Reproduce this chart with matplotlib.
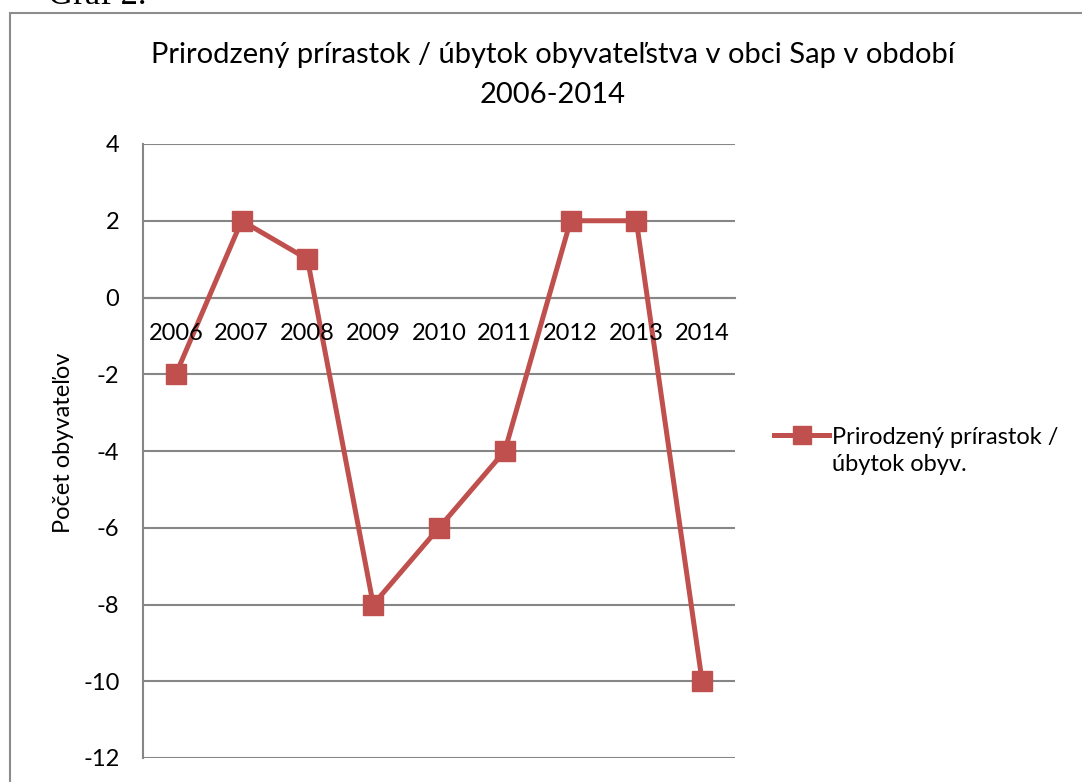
import matplotlib
matplotlib.use("Agg")
import matplotlib.pyplot as plt
from matplotlib.patches import Rectangle
from matplotlib.legend_handler import HandlerLine2D

years = ["2006", "2007", "2008", "2009", "2010", "2011", "2012", "2013", "2014"]
values = [-2, 2, 1, -8, -6, -4, 2, 2, -10]
yticks = [4, 2, 0, -2, -4, -6, -8, -10, -12]
title_lines = ["Prirodzený prírastok / úbytok obyvateľstva v obci Sap v období",
               "2006-2014"]
ylabel = "Počet obyvateľov"
series_label = "Prirodzený prírastok /\núbytok obyv."
caption = "Graf 2."

FONT = "Lato"
RED = "#C0504D"
GRAY = "#868686"
FS = 17

W, H = 1082, 782
fig = plt.figure(figsize=(W / 100, H / 100), dpi=100)
fig.patch.set_facecolor("white")

ax = fig.add_axes([143 / W, 1 - 758 / H, (735 - 143) / W, (758 - 144) / H])
x = list(range(len(years)))
ax.plot(x, values, color=RED, lw=3.6, marker="s", ms=14, mec=RED, mfc=RED,
        label=series_label, zorder=3)

for s in ["top", "right"]:
    ax.spines[s].set_visible(False)
ax.spines["left"].set_color(GRAY)
ax.spines["left"].set_linewidth(1.5)
ax.spines["bottom"].set_position(("data", 0))
ax.spines["bottom"].set_color(GRAY)
ax.spines["bottom"].set_linewidth(1.5)

ax.set_xlim(-0.5, len(years) - 0.5)
ax.set_ylim(-12, 4)
ax.set_yticks(yticks)
ax.set_yticklabels([str(v) for v in yticks])
ax.set_xticks(x)
ax.set_xticklabels(years)
ax.tick_params(axis="both", length=0, labelsize=FS)
ax.tick_params(axis="y", pad=17)
ax.tick_params(axis="x", pad=18)
for lab in ax.get_xticklabels() + ax.get_yticklabels():
    lab.set_family(FONT)

ax.grid(axis="y", color=GRAY, lw=1.5)
ax.set_axisbelow(True)
ax.xaxis.set_zorder(4)  # year labels drawn over the line, as in the reference

ax.set_ylabel(ylabel, fontsize=FS, family=FONT)
ax.yaxis.set_label_coords((74 - 143) / (735 - 143), (758 - 443) / (758 - 144))


class UpHandler(HandlerLine2D):
    def create_artists(self, legend, orig_handle, xdescent, ydescent,
                       width, height, fontsize, trans):
        return super().create_artists(legend, orig_handle, xdescent,
                                      ydescent - 24, width, height,
                                      fontsize, trans)


leg = fig.legend(loc="center left", bbox_to_anchor=(774 / W, 1 - 451 / H),
                 frameon=False, prop={"family": FONT, "size": FS},
                 handlelength=2.35, handletextpad=0.12, borderpad=0,
                 borderaxespad=0,
                 handler_map={plt.Line2D: UpHandler()})
for t in leg.get_texts():
    t.set_linespacing(1.35)
for h in leg.legend_handles:
    h.set_markersize(13)

fig.text(553 / W, 1 - 63 / H, title_lines[0], ha="center", va="baseline",
         fontsize=21, family=FONT)
fig.text(553 / W, 1 - 103 / H, title_lines[1], ha="center", va="baseline",
         fontsize=21, family=FONT)

fig.text(48 / W, 1 - 4 / H, caption, ha="left", va="baseline",
         fontsize=25, family="Liberation Serif")

fig.patches.append(Rectangle((10 / W, -0.2), 1.2, 0.2 + (1 - 13 / H),
                             transform=fig.transFigure, fill=False,
                             edgecolor="#8C8C8C", lw=1.5, zorder=0))

fig.savefig("out.png", dpi=100)
